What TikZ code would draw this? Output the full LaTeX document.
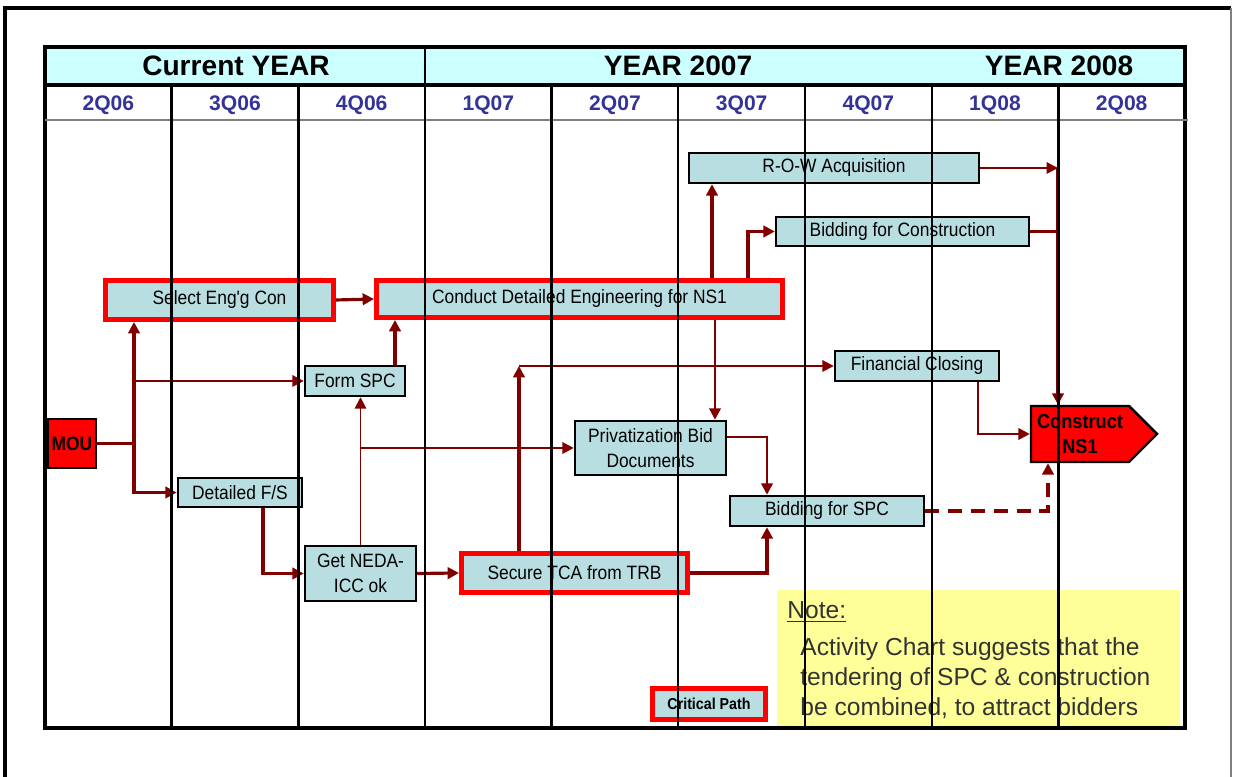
\documentclass[tikz,border=0pt]{standalone}
\usepackage{fontspec}
\setmainfont{Liberation Sans}
\newfontfamily\narrowfont[FakeStretch=0.9]{Liberation Sans}
\usetikzlibrary{arrows.meta,shapes.symbols}
\definecolor{boxblue}{RGB}{185,222,226}
\definecolor{headcyan}{RGB}{204,255,255}
\definecolor{noteyellow}{RGB}{255,255,153}
\definecolor{qblue}{RGB}{51,51,153}
\definecolor{flowred}{RGB}{128,0,0}
\tikzset{
  task/.style={draw=black, line width=1.4pt, fill=boxblue, inner sep=1pt, align=center,
    font=\narrowfont\fontsize{11}{14}\selectfont},
  crit/.style={task, draw=red, line width=2.8pt},
  flow/.style={draw=flowred, line width=1.8pt, -{Triangle[length=6.5pt,width=6.5pt]}},
  thinflow/.style={flow, line width=1.1pt},
  qlabel/.style={text=qblue, font=\fontsize{12}{14}\selectfont\bfseries},
  yearlabel/.style={font=\fontsize{16}{18}\selectfont\bfseries},
}
\begin{document}
\begin{tikzpicture}
\useasboundingbox (0,0) rectangle (24.68,15.54);
% page frame
\draw[line width=1.8pt] (0.1,0) -- (0.1,15.38) -- (24.62,15.38);
\draw[gray, line width=0.8pt] (24.62,15.38) -- (24.62,0);
% header rows
\fill[headcyan] (0.9,13.84) rectangle (23.7,14.6);
\node[yearlabel] (ycur) at (4.72,14.22) {Current YEAR};
\node[yearlabel] (y07) at (13.56,14.22) {YEAR 2007};
\node[yearlabel] (y08) at (21.18,14.22) {YEAR 2008};
\foreach \q [count=\i] in {2Q06,3Q06,4Q06,1Q07,2Q07,3Q07,4Q07,1Q08,2Q08}
  \node[qlabel] (q\i) at ({0.9+(\i-0.5)*2.5333},13.44) {\q};
% note
\fill[noteyellow] (15.54,0.98) rectangle (23.6,3.74);
\node[anchor=west, inner sep=0pt, font=\fontsize{14}{17}\selectfont, text=black!80] (notehd) at (15.74,3.3) {\underline{Note:}};
\node[anchor=west, inner sep=0pt, align=left, font=\fontsize{14}{17}\selectfont, text=black!80] (notetxt) at (16.0,1.98)
  {Activity Chart suggests that the\\tendering of SPC \& construction\\be combined, to attract bidders};
% activities
\node[task, minimum width=5.8cm, minimum height=0.6cm] (row) at (16.68,12.18) {R-O-W Acquisition};
\node[task, minimum width=5.06cm, minimum height=0.58cm] (bidcon) at (18.05,10.91) {Bidding for Construction};
\node[crit, minimum width=4.56cm, minimum height=0.78cm] (selcon) at (4.39,9.54) {Select Eng'g Con};
\node[crit, minimum width=8.12cm, minimum height=0.74cm] (conduct) at (11.59,9.56) {Conduct Detailed Engineering for NS1};
\node[task, minimum width=2.0cm, minimum height=0.6cm] (formspc) at (7.1,7.92) {Form SPC};
\node[task, minimum width=3.28cm, minimum height=0.6cm] (fincls) at (18.34,8.22) {Financial Closing};
\node[task, fill=red, minimum width=0.96cm, minimum height=0.98cm, font=\narrowfont\fontsize{11}{14}\selectfont\bfseries] (mou) at (1.44,6.67) {MOU};
\node[task, minimum width=3.02cm, minimum height=1.08cm] (privbid) at (13.01,6.58) {Privatization Bid\\Documents};
\node[task, fill=red, shape=signal, signal to=east, signal pointer angle=90, minimum width=2.52cm, minimum height=1.12cm,
  font=\narrowfont\fontsize{11.5}{14}\selectfont\bfseries] (construct) at (21.6,6.86) {Construct\\NS1};
\node[task, minimum width=2.48cm, minimum height=0.58cm] (detfs) at (4.8,5.69) {Detailed F/S};
\node[task, minimum width=3.88cm, minimum height=0.6cm] (bidspc) at (16.54,5.32) {Bidding for SPC};
\node[task, minimum width=2.22cm, minimum height=1.1cm] (neda) at (7.21,4.07) {Get NEDA-\\ICC ok};
\node[crit, minimum width=4.52cm, minimum height=0.78cm] (tca) at (11.49,4.08) {Secure TCA from TRB};
\node[crit, minimum width=2.26cm, minimum height=0.62cm, font=\narrowfont\fontsize{9}{11}\selectfont\bfseries] (critpath) at (14.18,1.46) {Critical Path};
% links
\coordinate (mouj) at (2.68,0);
\draw[flow, -] (mou.east) -- (mou.east -| mouj);
\draw[flow] (mou.east -| mouj) -- (selcon.south -| mouj);
\draw[flow] (mou.east -| mouj) |- (detfs.west);
\draw[thinflow] (formspc.west -| mouj) -- (formspc.west);
\draw[flow] (selcon.east) -- (conduct.west);
\draw[flow] ([xshift=0.8cm]formspc.north) -- ([xshift=0.8cm]formspc.north |- conduct.south);
\draw[flow] ([xshift=0.46cm]detfs.south) |- (neda.west);
\draw[thinflow] (neda.north) -- (formspc.south -| neda.north);
\draw[thinflow] (neda.north |- privbid.west) -- (privbid.west);
\draw[flow] (neda.east) -- (tca.west);
\coordinate (tcaturn) at ([xshift=-1.11cm]tca.north |- fincls.west);
\draw[flow] ([xshift=-1.11cm]tca.north) -- (tcaturn);
\draw[thinflow] (tcaturn) -- (fincls.west);
\draw[flow] ([xshift=2.65cm]conduct.north) -- ([xshift=2.65cm]conduct.north |- row.south);
\draw[flow] ([xshift=3.37cm]conduct.north) |- (bidcon.west);
\draw[thinflow, line width=1.4pt] ([xshift=2.71cm]conduct.south) -- ([xshift=2.71cm]conduct.south |- privbid.north);
\draw[flow, line width=1.5pt] ([yshift=0.22cm]privbid.east) -| ([xshift=-1.2cm]bidspc.north);
\draw[flow] (tca.east) -| ([xshift=-1.2cm]bidspc.south);
\draw[flow, line width=2.2pt, dash pattern=on 8pt off 5pt] (bidspc.east) -| ([xshift=-0.64cm]construct.south);
\draw[thinflow, line width=1.4pt] ([xshift=1.22cm]fincls.south) |- (construct.west);
\coordinate (rowj) at ([xshift=-0.44cm]construct.north |- row.east);
\draw[thinflow] (row.east) -- (rowj);
\draw[flow, -] (bidcon.east) -- (bidcon.east -| rowj);
\draw[flow] (rowj) -- ([xshift=-0.44cm]construct.north);
% grid lines on top
\draw[line width=1.8pt] (0.9,0.98) rectangle (23.7,14.6);
\draw[line width=1.8pt] (0.9,13.84) -- (23.7,13.84);
\draw[gray, line width=1pt] (0.9,13.14) -- (23.75,13.14);
\draw[line width=1.6pt] (8.5,13.84) -- (8.5,14.6);
\foreach \i in {1,2,3,4,8}
  \draw[line width=1.6pt] ({0.9+\i*2.5333},0.98) -- ({0.9+\i*2.5333},13.84);
\foreach \i in {5,6,7}
  \draw[line width=1pt] ({0.9+\i*2.5333},0.98) -- ({0.9+\i*2.5333},13.84);
\end{tikzpicture}
\end{document}
